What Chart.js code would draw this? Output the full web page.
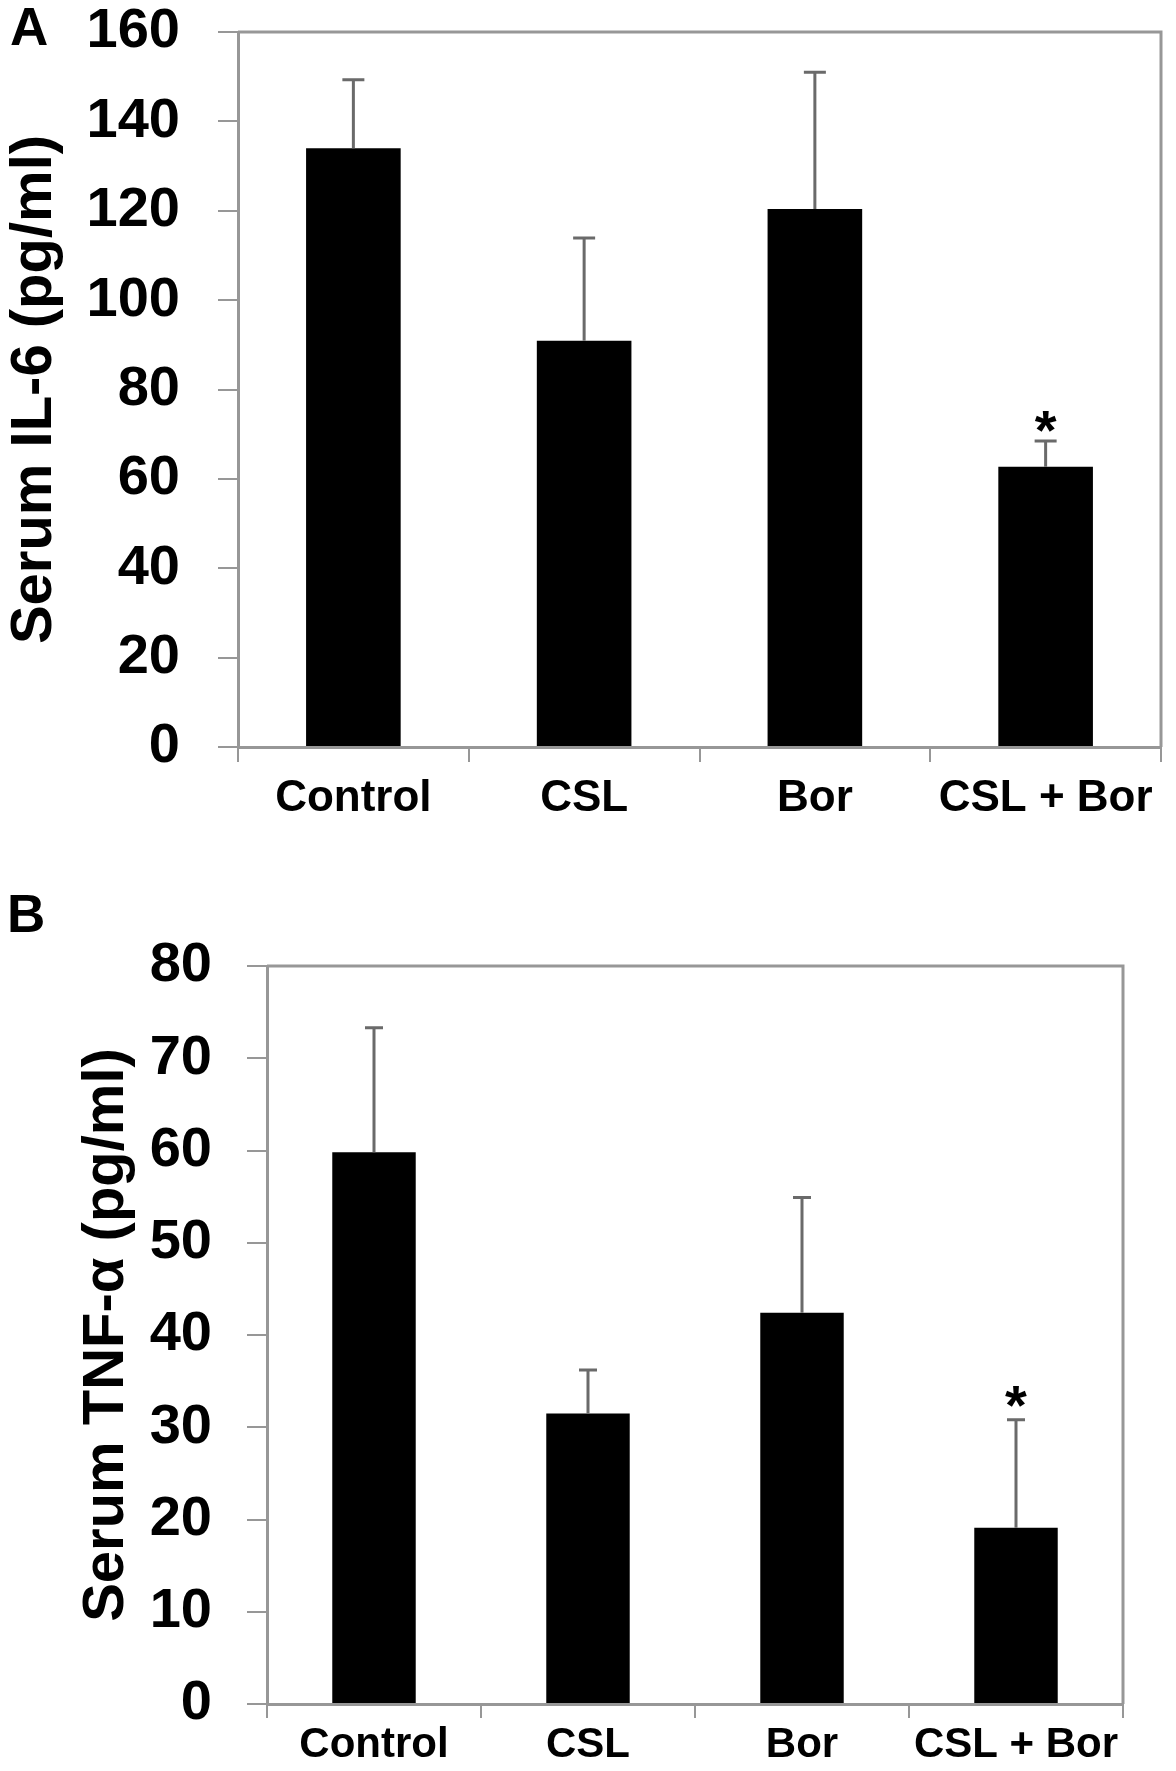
<!DOCTYPE html>
<html>
<head>
<meta charset="utf-8">
<script src="https://cdn.jsdelivr.net/npm/chart.js@4.4.1/dist/chart.umd.min.js"></script>
<style>
    body { margin: 0; background: #fff; width: 1176px; height: 1771px; position: relative; overflow: hidden; }
    canvas { position: absolute; left: 0; }
    #chartA { top: 0; }
    #chartB { top: 880px; }
    .panel { position: absolute; font: bold 53px/53px "Liberation Sans", Arial, sans-serif; color: #000; }
</style>
</head>
<body>
<canvas id="chartA" width="1176" height="880"></canvas>
<canvas id="chartB" width="1176" height="891"></canvas>
<div class="panel" style="left:10px; top:0">A</div>
<div class="panel" style="left:7px; top:887px">B</div>
<script>
const groups = ['Control', 'CSL', 'Bor', 'CSL + Bor']

const il6Mean = [134.0, 90.9, 120.4, 62.7]
const il6Sd = [15.3, 23.0, 30.6, 5.8]
const il6Marks = ['', '', '', '*']
const il6Ticks = [0, 20, 40, 60, 80, 100, 120, 140, 160]

const tnfMean = [59.8, 31.5, 42.4, 19.1]
const tnfSd = [13.5, 4.7, 12.5, 11.7]
const tnfMarks = ['', '', '', '*']
const tnfTicks = [0, 10, 20, 30, 40, 50, 60, 70, 80]

const fontFamily = '"Liberation Sans", Arial, sans-serif'
const axisGrey = '#979797'


// error bars (upper only), significance stars and the closed frame
const errorBarPlugin = {
    id: 'errorBars',
    afterDatasetsDraw(chart, args, opts) {
        const { ctx, chartArea } = chart
        const yScale = chart.scales.y
        const meta = chart.getDatasetMeta(0)
        const means = chart.data.datasets[0].data

        ctx.save()
        ctx.strokeStyle = axisGrey
        ctx.lineWidth = 3
        ctx.beginPath()
        ctx.moveTo(chartArea.left, chartArea.top)
        ctx.lineTo(chartArea.right, chartArea.top)
        ctx.lineTo(chartArea.right, chartArea.bottom)
        ctx.stroke()

        meta.data.forEach((bar, i) => {
            const yTop = yScale.getPixelForValue(means[i] + opts.sd[i])
            ctx.strokeStyle = '#6a6a6a'
            ctx.lineWidth = 3
            ctx.beginPath()
            ctx.moveTo(bar.x, bar.y)
            ctx.lineTo(bar.x, yTop)
            ctx.moveTo(bar.x - opts.capWidth / 2, yTop)
            ctx.lineTo(bar.x + opts.capWidth / 2, yTop)
            ctx.stroke()

            if (opts.marks[i]) {
                ctx.fillStyle = '#000'
                ctx.font = 'bold 56px ' + fontFamily
                ctx.textAlign = 'center'
                ctx.textBaseline = 'alphabetic'
                ctx.fillText(opts.marks[i], bar.x, yTop + opts.markOffset)
            }
        })
        ctx.restore()
    }
}


function printChart(id, means, sd, marks, ticks, settings) {

    const data = {
        labels: groups,
        datasets: [{
            data: means,
            backgroundColor: '#000',
            borderWidth: 0,
            barPercentage: settings.barPercentage,
            categoryPercentage: 1
        }]
    }

    const options = {
        responsive: false,
        animation: false,
        layout: {
            padding: { top: settings.padTop, right: settings.padRight, left: 0, bottom: 0 }
        },
        plugins: {
            legend: { display: false },
            tooltip: { enabled: false },
            errorBars: { sd, marks, capWidth: settings.capWidth, markOffset: settings.markOffset }
        },
        scales: {
            x: {
                afterFit: scale => {
                    scale.height = settings.xHeight
                    scale.paddingLeft = 0
                    scale.paddingRight = 0
                },
                grid: { drawOnChartArea: false, offset: true, tickLength: settings.xTickLength, color: axisGrey, lineWidth: 2 },
                border: { color: axisGrey, width: 3 },
                ticks: {
                    color: '#000',
                    padding: settings.xPadding,
                    font: { family: fontFamily, size: settings.xFont, weight: 'bold' }
                }
            },
            y: {
                min: ticks[0],
                max: ticks[ticks.length - 1],
                afterFit: scale => {
                    scale.width = settings.yWidth
                    scale.paddingTop = 0
                    scale.paddingBottom = 0
                },
                afterBuildTicks: scale => { scale.ticks = ticks.map(v => ({ value: v })) },
                grid: { drawOnChartArea: false, tickLength: 20, color: axisGrey, lineWidth: 2 },
                border: { color: axisGrey, width: 3 },
                ticks: {
                    color: '#000',
                    padding: settings.yPadding,
                    font: { family: fontFamily, size: 56, weight: 'bold' }
                },
                title: {
                    display: true,
                    text: settings.title,
                    color: '#000',
                    padding: { top: settings.titleOffset, bottom: 0 },
                    font: { family: fontFamily, size: 58, weight: 'bold', lineHeight: 1.2 }
                }
            }
        }
    }

    new Chart(id, { type: 'bar', data, options, plugins: [errorBarPlugin] })
}


printChart('chartA', il6Mean, il6Sd, il6Marks, il6Ticks, {
    title: 'Serum IL-6 (pg/ml)',
    barPercentage: 0.41,
    padTop: 32, padRight: 15,
    xHeight: 133, yWidth: 238,
    xTickLength: 15, xPadding: 10, xFont: 44,
    yPadding: 38, titleOffset: 0,
    capWidth: 22, markOffset: 8
})

printChart('chartB', tnfMean, tnfSd, tnfMarks, tnfTicks, {
    title: 'Serum TNF-α (pg/ml)',
    barPercentage: 0.39,
    padTop: 86, padRight: 53,
    xHeight: 67, yWidth: 267,
    xTickLength: 14, xPadding: 2, xFont: 42,
    yPadding: 35, titleOffset: 72,
    capWidth: 18, markOffset: 4
})
</script>
</body>
</html>
